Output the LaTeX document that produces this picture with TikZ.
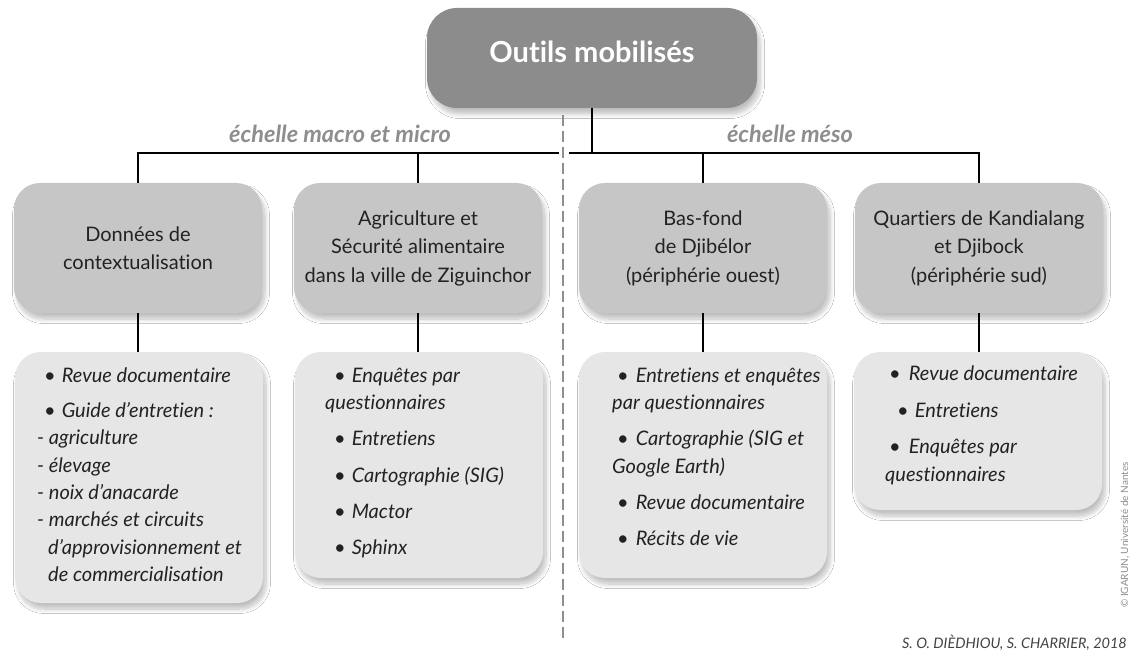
\documentclass[tikz,border=0pt]{standalone}
\usepackage{fontspec}
\setmainfont{Lato}[Ligatures=NoCommon]
\usetikzlibrary{shadows.blur}
\definecolor{topfill}{HTML}{8C8C8C}
\definecolor{midfill}{HTML}{C6C6C6}
\definecolor{lowfill}{HTML}{E6E6E6}
\definecolor{lblgray}{HTML}{8E8E8E}
\definecolor{txt}{HTML}{222222}
\tikzset{
 shad/.style={blur shadow={shadow xshift=3pt, shadow yshift=-6pt, shadow blur radius=4.5pt, shadow blur steps=10, shadow opacity=25}},
 topbox/.style={shad, fill=topfill, rounded corners=30pt, minimum width=330pt, minimum height=100pt, text=white, font=\fontsize{29}{34}\selectfont\bfseries, inner sep=0pt, text depth=12pt},
 midbox/.style={shad, fill=midfill, rounded corners=26pt, minimum width=248pt, minimum height=130pt, align=center, text=txt, font=\fontsize{20}{28.5}\selectfont, inner sep=0pt},
 lowbox/.style={shad, fill=lowfill, rounded corners=26pt, minimum width=248pt, inner sep=0pt},
 itemtext/.style={anchor=north west, align=left, inner sep=0pt, text=txt, font=\fontsize{20}{27.3}\selectfont\itshape},
 conn/.style={line width=1.6pt, black},
 sepline/.style={line width=2.4pt, lblgray, dash pattern=on 11pt off 5pt},
 scalelbl/.style={font=\fontsize{23.5}{27}\selectfont\bfseries\itshape, text=lblgray, anchor=base, inner sep=0pt},
}
\newcommand{\bul}{\textup{•}}
\begin{document}
\begin{tikzpicture}[x=1pt,y=-1pt]
\fill[white] (0,0) rectangle (1132,652);
\useasboundingbox (0,0) rectangle (1132,652);

% top
\node[topbox] (top) at (592,58) {Outils mobilisés};

% level 2
\node[midbox] (b1) at (138,248) {Données de\\contextualisation};
\node[midbox] (b2) at (418,248) {Agriculture et\\Sécurité alimentaire\\dans la ville de Ziguinchor};
\node[midbox] (b3) at (703,248) {Bas-fond\\de Djibélor\\(périphérie ouest)};
\node[midbox] (b4) at (979,248) {Quartiers de Kandialang\\et Djibock\\(périphérie sud)};

% lower boxes
\node[lowbox, minimum height=251pt] (L1) at (139,477.5) {};
\node[lowbox, minimum height=226pt] (L2) at (419,465) {};
\node[lowbox, minimum height=226pt] (L3) at (703,465) {};
\node[lowbox, minimum height=158pt] (L4) at (978,431) {};

\node[itemtext] (T1) at (37,363) {\strut\hspace*{7pt}\bul\hspace*{6pt}Revue documentaire\\[8pt]
\hspace*{7pt}\bul\hspace*{6pt}Guide d’entretien :\\
- agriculture\\
- élevage\\
- noix d’anacarde\\
- marchés et circuits\\
\hspace*{11pt}d’approvisionnement et\\
\hspace*{11pt}de commercialisation};

\node[itemtext] (T2) at (325,363) {\strut\hspace*{9pt}\bul\hspace*{6pt}Enquêtes par\\
questionnaires\\[9pt]
\hspace*{9pt}\bul\hspace*{6pt}Entretiens\\[9pt]
\hspace*{9pt}\bul\hspace*{6pt}Cartographie (SIG)\\[9pt]
\hspace*{9pt}\bul\hspace*{6pt}Mactor\\[9pt]
\hspace*{9pt}\bul\hspace*{6pt}Sphinx};

\node[itemtext] (T3) at (612,363) {\strut\hspace*{5pt}\bul\hspace*{7pt}Entretiens et enquêtes\\
par questionnaires\\[9pt]
\hspace*{5pt}\bul\hspace*{7pt}Cartographie (SIG et\\
Google Earth)\\[9pt]
\hspace*{5pt}\bul\hspace*{7pt}Revue documentaire\\[9pt]
\hspace*{5pt}\bul\hspace*{7pt}Récits de vie};

\node[itemtext] (T4) at (885,361) {\strut\hspace*{4pt}\bul\hspace*{8pt}Revue documentaire\\[10pt]
\hspace*{12pt}\bul\hspace*{6pt}Entretiens\\[9pt]
\hspace*{4pt}\bul\hspace*{8pt}Enquêtes par\\
questionnaires};

% scale labels
\node[scalelbl] (lmacro) at (340,142.5) {échelle macro et micro};
\node[scalelbl] (lmeso) at (790,142.5) {échelle méso};

% connectors
\coordinate (gl) at (559,153);
\coordinate (gr) at (569,153);
\draw[conn] (b1.north) |- (gl);
\draw[conn] (gr) -| (b4.north);
\draw[conn] (b2.north) -- (b2.north |- gl);
\draw[conn] (b3.north) -- (b3.north |- gr);
\draw[conn] (top.south) -- (top.south |- gr);
\draw[conn] (b1.south) -- (b1.south |- L1.north);
\draw[conn] (b2.south) -- (b2.south |- L2.north);
\draw[conn] (b3.south) -- (b3.south |- L3.north);
\draw[conn] (b4.south) -- (b4.south |- L4.north);

% separator
\coordinate (s1) at (563,115);
\coordinate (s2) at (563,640);
\draw[sepline] (s1) -- (s2);

% credits
\node[rotate=90, font=\fontsize{10}{12}\selectfont, text=lblgray] (copy) at (1125,535) {© IGARUN, Université de Nantes};
\node[anchor=base east, font=\fontsize{14.5}{17}\selectfont\itshape, text=txt!85, inner sep=0pt] (cred) at (1127,648) {S. O. DIÈDHIOU, S. CHARRIER, 2018};
\end{tikzpicture}
\end{document}
